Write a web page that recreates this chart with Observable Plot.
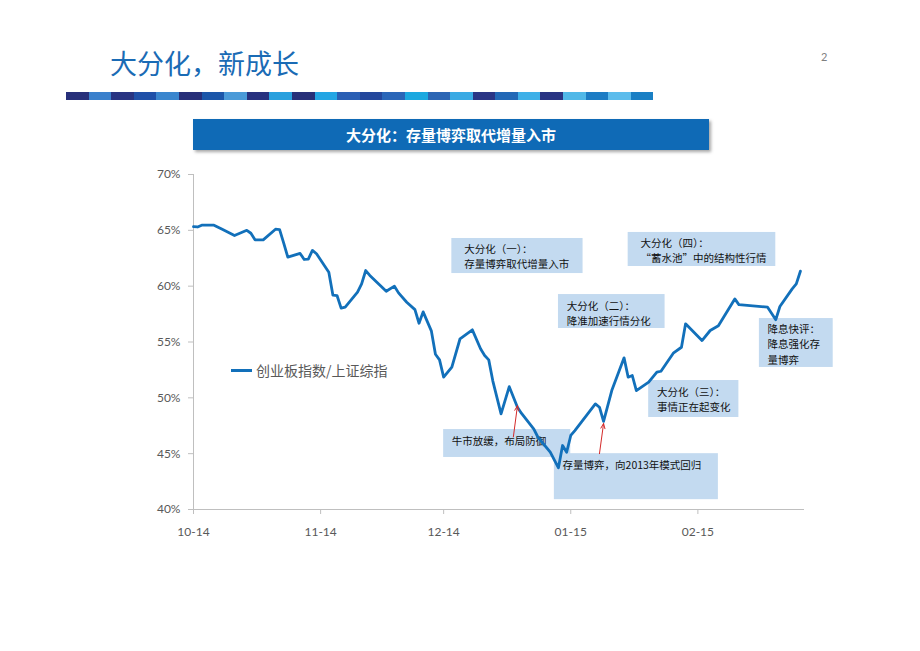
<!DOCTYPE html>
<html>
<head>
<meta charset="utf-8">
<script src="https://cdn.jsdelivr.net/npm/d3@7"></script>
<script src="https://cdn.jsdelivr.net/npm/@observablehq/plot@0.6"></script>
<style>
html,body{margin:0;padding:0;background:#fff;}
#page{position:relative;width:920px;height:651px;overflow:hidden;font-family:"Noto Sans CJK SC",sans-serif;}
#chart{position:absolute;left:0;top:0;}
.title{position:absolute;left:110px;top:49px;font-size:27px;color:#1A6BB5;line-height:1;white-space:nowrap;}
.pageno{position:absolute;left:821px;top:50px;font-family:Lato,sans-serif;font-size:11px;color:#7f7f7f;}
#stripe{position:absolute;left:66px;top:92px;height:8px;display:flex;}
#stripe div{width:22.6px;height:8px;flex:none;}
.boxtitle{position:absolute;left:193px;top:119px;width:516px;height:31px;background:#0F6AB6;box-shadow:2px 2px 3px rgba(0,0,0,.35);color:#fff;font-weight:bold;font-size:15px;line-height:31px;text-align:center;}
.legend{position:absolute;left:231px;top:360px;display:flex;align-items:center;font-size:14px;color:#595959;line-height:20px;}
.legend .sw{display:inline-block;width:21px;height:3px;background:#1270BA;margin-right:4px;}
</style>
</head>
<body>
<div id="page">
  <div id="chart"></div>
  <div class="title">大分化，新成长</div>
  <div class="pageno">2</div>
  <div id="stripe"></div>
  <div class="boxtitle">大分化：存量博弈取代增量入市</div>
  <div class="legend"><span class="sw"></span><span id="legendText"></span></div>
</div>
<script>
// ---- data ----
const seriesName = "创业板指数/上证综指";
const dates = ["2014-10-01","2014-10-02","2014-10-03","2014-10-06","2014-10-08","2014-10-11","2014-10-14","2014-10-15","2014-10-16","2014-10-18","2014-10-21","2014-10-22","2014-10-23","2014-10-24","2014-10-27","2014-10-28","2014-10-29","2014-10-30","2014-10-31",
"2014-11-03","2014-11-04","2014-11-05","2014-11-06","2014-11-07","2014-11-10","2014-11-11","2014-11-12","2014-11-13","2014-11-17","2014-11-19","2014-11-20","2014-11-22","2014-11-24","2014-11-25","2014-11-26","2014-11-28","2014-11-29","2014-11-30",
"2014-12-01","2014-12-03","2014-12-05","2014-12-08","2014-12-10","2014-12-11","2014-12-12","2014-12-13","2014-12-15","2014-12-17","2014-12-19","2014-12-20","2014-12-22","2014-12-23","2014-12-24","2014-12-27","2014-12-29","2014-12-30","2014-12-31",
"2015-01-01","2015-01-02","2015-01-07","2015-01-08","2015-01-09","2015-01-11","2015-01-14","2015-01-15","2015-01-16","2015-01-17","2015-01-20","2015-01-22","2015-01-23","2015-01-26","2015-01-28","2015-01-29",
"2015-02-02","2015-02-04","2015-02-06","2015-02-10","2015-02-11","2015-02-18","2015-02-20","2015-02-21","2015-02-24","2015-02-25","2015-02-26"];
const values = [65.34,65.30,65.46,65.46,65.10,64.54,65.00,64.74,64.15,64.15,65.10,65.07,63.85,62.60,62.93,62.39,62.42,63.20,62.90,
61.25,59.19,59.16,58.03,58.12,59.46,60.20,61.40,60.96,59.55,60.00,59.40,58.56,57.90,56.68,57.70,56.00,53.90,53.40,
51.85,52.75,55.29,56.09,54.39,53.79,53.40,51.50,48.56,51.00,49.16,48.60,47.67,47.20,46.47,45.13,43.73,45.73,45.13,
46.63,47.07,49.46,49.16,47.90,50.65,53.58,51.85,52.00,50.65,51.40,52.30,52.38,54.00,54.53,56.63,
55.13,56.03,56.45,58.86,58.35,58.12,57.00,58.18,59.76,60.20,61.34];

const xDomain = ["2014-10-01","2015-02-27"];
const yTicks = [40,45,50,55,60,65,70];
const xTickDates = ["2014-10-01","2014-11-01","2014-12-01","2015-01-01","2015-02-01"];
const xTickLabels = ["10-14","11-14","12-14","01-15","02-15"];

// annotations (data coordinates)
const annoLabels = ["大分化（一）：\n存量博弈取代增量入市","大分化（二）：\n降准加速行情分化","大分化（三）：\n事情正在起变化","大分化（四）：\n“蓄水池”中的结构性行情","降息快评：\n降息强化存\n量博弈","牛市放缓，布局防御","存量博弈，向2013年模式回归"];
const annoStart = ["2014-12-03","2014-12-29","2015-01-20","2015-01-15","2015-02-16","2014-12-01","2014-12-28"];
const annoEnd   = ["2015-01-04","2015-01-24","2015-02-11","2015-02-20","2015-03-06","2015-01-01","2015-02-06"];
const annoLow   = [61.13,56.21,48.24,61.76,52.72,44.66,40.88];
const annoHigh  = [64.27,59.25,51.55,64.81,57.10,47.16,45.00];
const annoTextDate  = ["2014-12-06","2014-12-31","2015-01-22","2015-01-18","2015-02-18","2014-12-03","2014-12-30"];
const annoTextValue = [62.75,57.64,49.94,63.24,54.87,46.18,44.03];

const arrowFromDate = ["2014-12-18","2015-01-08"];
const arrowToDate   = ["2014-12-19","2015-01-09"];
const arrowFromValue = [46.5,45.0];
const arrowToValue   = [49.3,47.7];

const stripeColors = ["#27307A","#3A80CC","#283482","#1F50A8","#3A86CE","#272F79","#1B56A9","#4A9AD8","#27317F","#29A0DE","#273079","#23A5E4","#2A5FB4","#24479C","#2A66B8","#1BA8E0","#2C66B4","#3AAAE4","#2A3585","#2268B6","#3EB0E8","#283483","#50B8E8","#1C7CC4","#5CBCEC","#1A7FC4"];

// ---- build ----
const D = s => new Date(s);
const series = dates.map((d,i)=>({date:D(d), value:values[i]}));
const annos = annoLabels.map((t,i)=>({text:t, x1:D(annoStart[i]), x2:D(annoEnd[i]), y1:annoLow[i], y2:annoHigh[i], tx:D(annoTextDate[i]), ty:annoTextValue[i]}));
const arrows = arrowFromDate.map((d,i)=>({x1:D(d), x2:D(arrowToDate[i]), y1:arrowFromValue[i], y2:arrowToValue[i]}));
const tickMap = new Map(xTickDates.map((d,i)=>[D(d).getTime(), xTickLabels[i]]));

const stripe = document.getElementById("stripe");
stripeColors.forEach(c=>{const s=document.createElement("div"); s.style.background=c; stripe.appendChild(s);});
document.getElementById("legendText").textContent = seriesName;

const lineColor = "#1270BA";
const axisGray = "#BFBFBF";
const labelGray = "#595959";

const chart = Plot.plot({
  width: 920,
  height: 651,
  marginLeft: 193,
  marginRight: 116,
  marginTop: 174,
  marginBottom: 142,
  style: {fontFamily: "Lato, 'Noto Sans CJK SC', sans-serif", fontSize: "12px", color: labelGray, background: "transparent", overflow: "visible"},
  x: {type: "utc", domain: xDomain.map(D)},
  y: {domain: [40,70]},
  marks: [
    Plot.rect(annos, {x1:"x1", x2:"x2", y1:"y1", y2:"y2", fill:"#C3DAF0"}),
    Plot.text(annos, {x:"tx", y:"ty", text:"text", textAnchor:"start", lineAnchor:"middle", lineHeight:1.45, fontSize:10.5, fill:"#111", fontFamily:"'Noto Sans CJK SC', sans-serif"}),
    Plot.ruleY([40], {stroke: axisGray, strokeWidth: 1}),
    Plot.ruleX([D(xDomain[0])], {stroke: axisGray, strokeWidth: 1}),
    Plot.axisX({ticks: xTickDates.map(D), tickFormat: d => tickMap.get(d.getTime()), tickSize: 5, tickPadding: 13, stroke: axisGray, fill: labelGray, fontSize: 12, label: null}),
    Plot.axisY({ticks: yTicks, tickFormat: d => d + "%", tickSize: 5, tickPadding: 8, stroke: axisGray, fill: labelGray, fontSize: 12, label: null}),
    Plot.line(series, {x:"date", y:"value", stroke: lineColor, strokeWidth: 2.8, strokeLinejoin: "round"}),
    Plot.arrow(arrows, {x1:"x1", y1:"y1", x2:"x2", y2:"y2", stroke:"#D42A2A", strokeWidth:1, headLength:8, headAngle:45})
  ]
});
document.getElementById("chart").appendChild(chart);
</script>
</body>
</html>
